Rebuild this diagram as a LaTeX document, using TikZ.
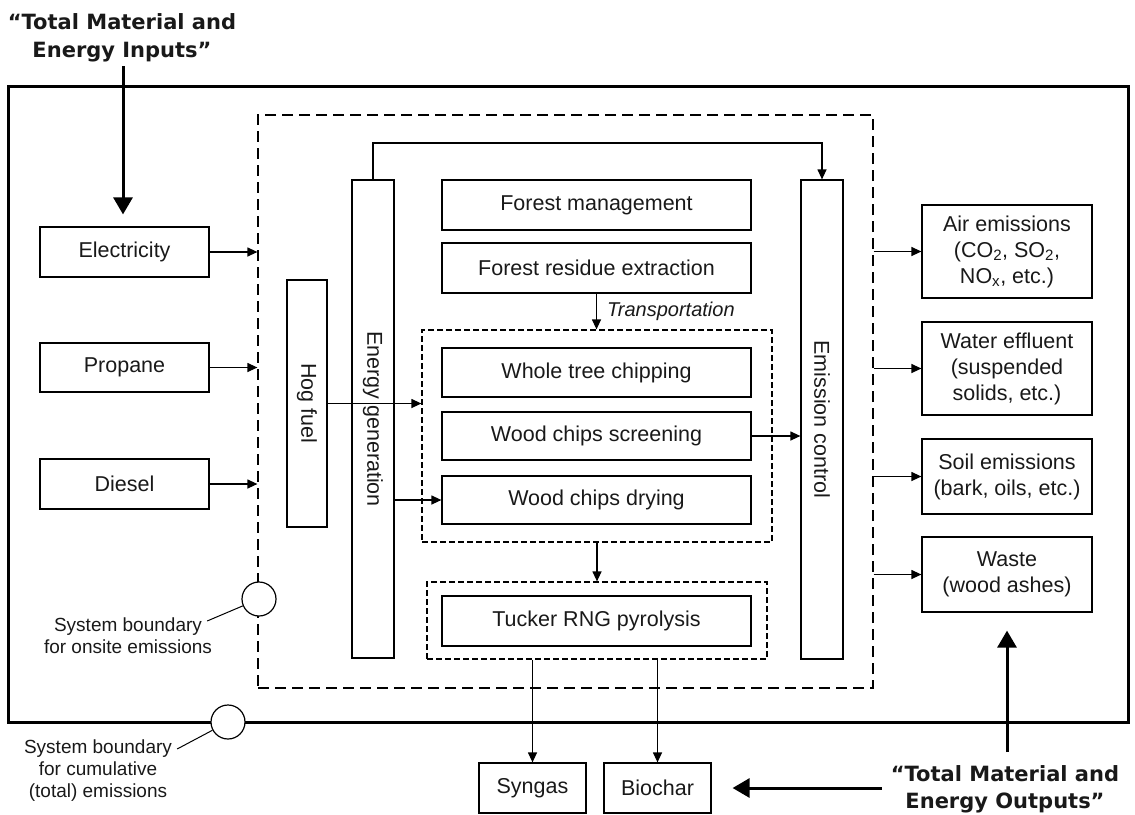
\documentclass[tikz,border=0pt]{standalone}
\usepackage{fontspec}
\setmainfont{Liberation Sans}
\newfontfamily\titlefont{DejaVu Sans}
\usetikzlibrary{arrows.meta,calc}
\definecolor{txt}{gray}{0.1}
\begin{document}
\begin{tikzpicture}[x=1pt,y=-1pt,
  box/.style={draw, line width=1.2pt, inner sep=0pt, align=center, text=txt,
    font=\fontsize{21.5}{26}\selectfont},
  vbox/.style={box, rotate=-90},
  arr/.style={line width=1.2pt, -{Triangle[length=10pt,width=9pt]}},
  bigarr/.style={line width=3pt, -{Triangle[length=17pt,width=19pt]}},
  dashbig/.style={draw, line width=1.2pt, dash pattern=on 11pt off 6pt, inner sep=0pt},
  dashsmall/.style={draw, line width=1.2pt, dash pattern=on 6pt off 3pt, inner sep=0pt},
  lbl/.style={font=\fontsize{19}{22}\selectfont, align=center, inner sep=0pt, text=txt},
  ttl/.style={align=center, inner sep=0pt, text=txt},
  ring/.style={circle, draw, line width=1.2pt, fill=white, minimum size=34pt, inner sep=0pt},
  leader/.style={line width=1pt}
]
\useasboundingbox (0,0) rectangle (1135,814);

% boundaries
\node[draw, line width=3pt, inner sep=0pt, minimum width=1120pt, minimum height=636pt] (outer) at (568,404) {};
\node[dashbig, minimum width=615pt, minimum height=573pt] (onsite) at (565.5,401.5) {};
\node[dashsmall, minimum width=350pt, minimum height=212pt] (inner1) at (597,436) {};
\node[dashsmall, minimum width=340pt, minimum height=77pt] (inner2) at (597,620.5) {};

% titles
\node[ttl, font=\titlefont\bfseries\fontsize{21}{28}\selectfont] (intitle) at (122,38) {“Total Material and\\Energy Inputs”};
\node[ttl, font=\titlefont\bfseries\fontsize{21}{27}\selectfont] (outtitle) at (1005,789) {“Total Material and\\Energy Outputs”};

% inputs
\node[box, minimum width=169pt, minimum height=50pt] (elec) at (124.5,252) {Electricity};
\node[box, minimum width=169pt, minimum height=49pt] (prop) at (124.5,367.5) {Propane};
\node[box, minimum width=169pt, minimum height=50pt] (dies) at (124.5,484) {Diesel};

% vertical boxes
\node[vbox, minimum width=247pt, minimum height=40pt] (hog) at (307,403.5) {Hog fuel};
\node[vbox, minimum width=478pt, minimum height=42pt] (egen) at (373,419) {Energy generation};
\node[vbox, minimum width=479pt, minimum height=42pt] (emis) at (822,419.5) {Emission control};

% process boxes
\node[box, minimum width=309pt, minimum height=50pt] (fm) at (596.5,205) {Forest management};
\node[box, minimum width=309pt, minimum height=50pt] (fre) at (596.5,268) {Forest residue extraction};
\node[box, minimum width=309pt, minimum height=49pt] (wtc) at (596.5,372.5) {Whole tree chipping};
\node[box, minimum width=309pt, minimum height=48pt] (scr) at (596.5,436) {Wood chips screening};
\node[box, minimum width=309pt, minimum height=48pt] (dry) at (596.5,500) {Wood chips drying};
\node[box, minimum width=309pt, minimum height=50pt] (tuck) at (596.5,621) {Tucker RNG pyrolysis};

\node[lbl, font=\itshape\fontsize{20}{24}\selectfont, anchor=west] (trans) at (607,311) {Transportation};

% products
\node[box, minimum width=107pt, minimum height=50pt] (syn) at (532.5,788) {Syngas};
\node[box, minimum width=107pt, minimum height=50pt] (bio) at (657.5,788) {Biochar};

% emissions
\node[box, minimum width=170pt, minimum height=93pt] (air) at (1007,251.5) {Air emissions\\(CO\textsubscript{2}, SO\textsubscript{2},\\NO\textsubscript{x}, etc.)};
\node[box, minimum width=170pt, minimum height=93pt] (water) at (1007,368.5) {Water effluent\\(suspended\\solids, etc.)};
\node[box, minimum width=170pt, minimum height=75pt] (soil) at (1007,476.5) {Soil emissions\\(bark, oils, etc.)};
\node[box, minimum width=170pt, minimum height=75pt] (waste) at (1007,574.5) {Waste\\(wood ashes)};

% boundary markers
\node[ring] (c1) at (259,599) {};
\node[ring] (c2) at (228,722) {};
\node[lbl] (lab1) at (128,636) {System boundary\\for onsite emissions};
\node[lbl] (lab2) at (98,770.5) {System boundary\\for cumulative\\(total) emissions};
\draw[leader] ($(lab1.east)+(-5,-15)$) -- (c1);
\draw[leader] ($(lab2.east)+(5,-21.5)$) -- (c2);

% input arrows
\draw[arr] (elec.east) -- (elec.east -| onsite.west);
\draw[arr] (prop.east) -- (prop.east -| onsite.west);
\draw[arr] (dies.east) -- (dies.east -| onsite.west);

% internal flows
\coordinate (topline) at (600,143);
\draw[arr] (egen.west) |- (topline) -| (emis.west);
\draw[arr] (hog.north) -- (hog.north -| inner1.west);
\draw[arr] (egen.north |- dry.west) -- (dry.west);
\draw[arr] (scr.east) -- (scr.east -| emis.south);
\draw[arr] (fre.south) -- (fre.south |- inner1.north);
\draw[arr] (inner1.south) -- (inner2.north);
\draw[arr] (syn.north |- inner2.south) -- (syn.north);
\draw[arr] (bio.north |- inner2.south) -- (bio.north);

% output arrows
\draw[arr] (onsite.east |- air.west) -- (air.west);
\draw[arr] (onsite.east |- water.west) -- (water.west);
\draw[arr] (onsite.east |- soil.west) -- (soil.west);
\draw[arr] (onsite.east |- waste.west) -- (waste.west);

% big arrows
\draw[bigarr] ($(intitle.south)+(1,4)$) -- ($(intitle.south |- elec.north)+(1,-12)$);
\draw[bigarr] ($(outtitle.north -| waste.south)+(0,-13)$) -- ($(waste.south)+(0,18)$);
\draw[bigarr] ($(outtitle.west |- bio.east)+(-9,0)$) -- ($(bio.east)+(21,0)$);
\end{tikzpicture}
\end{document}
